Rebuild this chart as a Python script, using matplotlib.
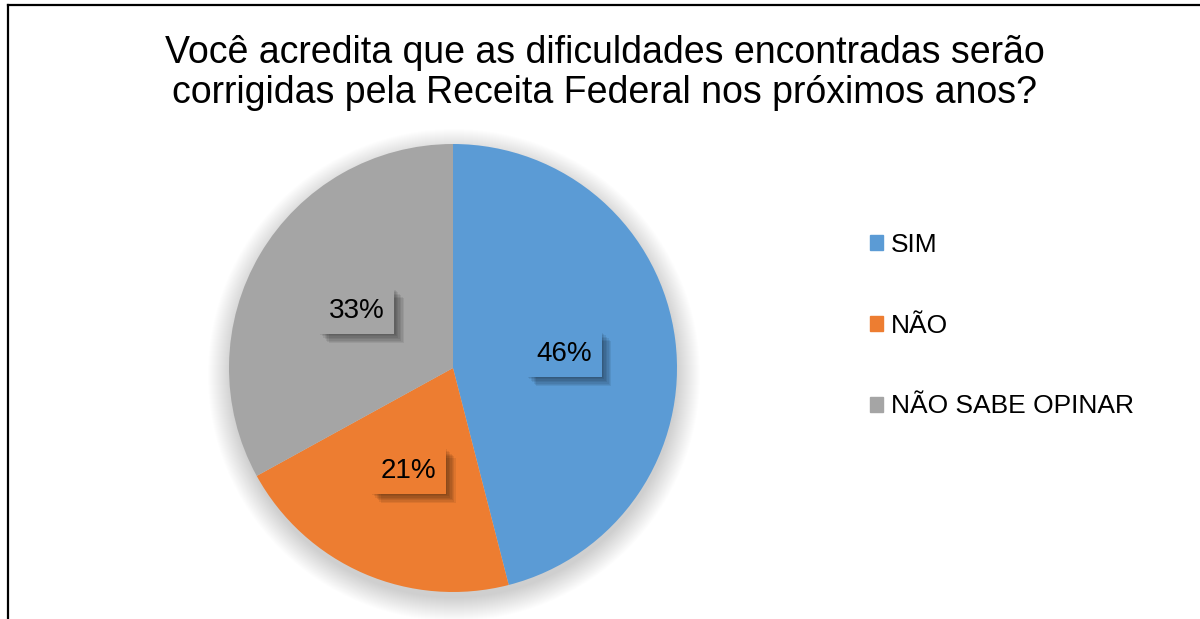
import matplotlib.pyplot as plt
import matplotlib.patches as mpatches
import matplotlib.patheffects as pe
from matplotlib.lines import Line2D

plt.rcParams['font.family'] = ['Liberation Sans', 'DejaVu Sans']

# dados
categorias = ['SIM', 'NÃO', 'NÃO SABE OPINAR']
valores = [46, 21, 33]
cores = ['#5B9BD5', '#ED7D31', '#A5A5A5']
titulo = 'Você acredita que as dificuldades encontradas serão\ncorrigidas pela Receita Federal nos próximos anos?'

fig = plt.figure(figsize=(12, 6.19), dpi=100)
ax = fig.add_axes([0, 0, 1, 1])
ax.axis('off')

cx, cy, r = 453, 251, 224

# sombra suave da pizza
for i in range(24):
    ax.add_patch(mpatches.Circle((cx + 1, cy - 7), r + 22 - i, color='#000000',
                                 alpha=0.006, lw=0, zorder=1))

wedges, textos, pcts = ax.pie(valores, colors=cores, startangle=90, counterclock=False,
                              center=(cx, cy), radius=r, autopct='%d%%', pctdistance=0.5,
                              textprops=dict(fontsize=20, color='black'),
                              wedgeprops=dict(linewidth=0, zorder=2))
ax.set_xlim(0, 1200)
ax.set_ylim(0, 619)
ax.set_aspect('auto')

# caixas dos rotulos com sombra difusa
sombra = [pe.SimplePatchShadow(offset=(k, -k), shadow_rgbFace='black', alpha=0.07)
          for k in (1, 2, 3, 4, 5, 6, 7)]
for p, c in zip(pcts, cores):
    p.set_zorder(5)
    p.set_bbox(dict(boxstyle='square,pad=0.35', facecolor=c, edgecolor='none'))
    p.get_bbox_patch().set_path_effects(sombra + [pe.Normal()])

handles = [mpatches.Patch(color=c, label=l) for c, l in zip(cores, categorias)]
ax.legend(handles=handles, loc='upper left', bbox_to_anchor=(870 / 1200, 1 - 233 / 619),
          frameon=False, fontsize=19, handlelength=0.5, handleheight=0.5,
          handletextpad=0.3, labelspacing=2.15, borderaxespad=0, borderpad=0)

fig.text(0.504, 1 - 73 / 619, titulo, ha='center', va='center', fontsize=27,
         linespacing=1.12)

# moldura
fig.add_artist(Line2D([8 / 1200, 1], [1 - 5 / 619, 1 - 5 / 619], color='black', lw=1.6))
fig.add_artist(Line2D([8 / 1200, 8 / 1200], [0, 1 - 5 / 619], color='black', lw=1.6))

fig.savefig('out.png', dpi=100)
